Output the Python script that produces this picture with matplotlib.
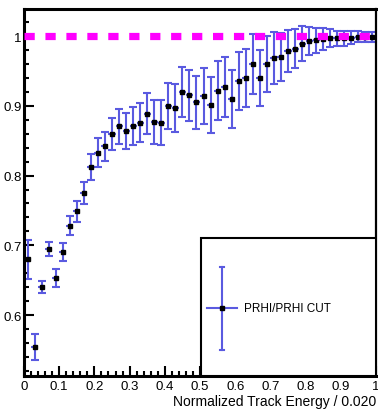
import numpy as np
import matplotlib
matplotlib.use("Agg")
from matplotlib import pyplot as plt
from matplotlib.patches import Rectangle
from matplotlib.ticker import MultipleLocator, FixedLocator

plt.rcParams['font.family'] = ['Liberation Sans', 'DejaVu Sans']

# efficiency per bin of normalized track energy (bin width 0.02)
bin_centers = np.arange(0.01, 1.0, 0.02)
eff = [0.680, 0.554, 0.640, 0.695, 0.653, 0.690, 0.728, 0.749, 0.775, 0.812,
       0.833, 0.842, 0.860, 0.871, 0.864, 0.871, 0.876, 0.889, 0.877, 0.876,
       0.900, 0.897, 0.920, 0.915, 0.905, 0.914, 0.901, 0.922, 0.927, 0.910,
       0.936, 0.940, 0.960, 0.940, 0.960, 0.969, 0.970, 0.979, 0.982, 0.989,
       0.993, 0.994, 0.996, 0.997, 0.997, 0.997, 0.998, 0.999, 0.999, 0.999]
eff_err = [0.028, 0.019, 0.0086, 0.0098, 0.0126, 0.013, 0.0136, 0.015, 0.016, 0.0186,
           0.021, 0.021, 0.023, 0.025, 0.026, 0.027, 0.028, 0.030, 0.031, 0.032,
           0.033, 0.035, 0.036, 0.037, 0.038, 0.040, 0.040, 0.042, 0.043, 0.042,
           0.042, 0.042, 0.043, 0.040, 0.040, 0.037, 0.034, 0.030, 0.028, 0.025,
           0.020, 0.018, 0.016, 0.013, 0.011, 0.011, 0.0095, 0.008, 0.0076, 0.0067]
bin_halfwidth = 0.01
ref_level = 1.0

x_ticks = [0, 0.1, 0.2, 0.3, 0.4, 0.5, 0.6, 0.7, 0.8, 0.9, 1]
x_labels = ["0", "0.1", "0.2", "0.3", "0.4", "0.5", "0.6", "0.7", "0.8", "0.9", "1"]
y_ticks = [0.6, 0.7, 0.8, 0.9, 1.0]
y_labels = ["0.6", "0.7", "0.8", "0.9", "1"]
legend_label = "PRHI/PRHI CUT"
x_title = "Normalized Track Energy / 0.020"

err_color = "#5a5ae0"

fig = plt.figure(figsize=(3.78, 4.10), dpi=100)
ax = fig.add_axes([24/378, 33/410, 352/378, 367/410])

# vertical error bars with caps, horizontal bin-width bars without
ax.errorbar(bin_centers, eff, yerr=eff_err, fmt='none', ecolor=err_color,
            elinewidth=1.5, capsize=2.8, capthick=1.5, zorder=2)
ax.errorbar(bin_centers, eff, xerr=bin_halfwidth, fmt='none', ecolor=err_color,
            elinewidth=1.5, capsize=0, zorder=2)
ax.plot(bin_centers, eff, 's', color='black', markersize=3.4, zorder=3)

# reference line at 1
ax.axhline(ref_level, color='#ff00ff', lw=5.2, linestyle=(0, (1.42, 1.48)),
           dash_capstyle='butt', zorder=4)

ax.set_xlim(0, 1)
ax.set_ylim(0.5125, 1.039)

ax.xaxis.set_major_locator(FixedLocator(x_ticks))
ax.set_xticklabels(x_labels)
ax.yaxis.set_major_locator(FixedLocator(y_ticks))
ax.set_yticklabels(y_labels)
ax.xaxis.set_minor_locator(MultipleLocator(0.02))
ax.yaxis.set_minor_locator(MultipleLocator(0.02))

ax.tick_params(which='both', direction='in', top=False, right=False, width=1.5,
               labelsize=9.5, colors='black')
ax.tick_params(which='major', length=7.5)
ax.tick_params(which='minor', length=3.8)
ax.tick_params(axis='y', pad=1.5)
ax.tick_params(axis='x', pad=3)

for side in ['left', 'bottom', 'top']:
    ax.spines[side].set_linewidth(2.2)
ax.spines['right'].set_linewidth(1.6)

ax.set_xlabel(x_title, fontsize=10, ha='right')
ax.xaxis.set_label_coords(1.0, -0.05)

# legend box, drawn by hand in axes coordinates
ax.add_patch(Rectangle((0.503, 0.0), 0.497, 0.375, transform=ax.transAxes,
                       facecolor='white', edgecolor='black', lw=1.5, zorder=5))
lx, ly = 0.5625, 0.185
ax.plot([lx - 0.044, lx + 0.044], [ly, ly], color=err_color, lw=1.5,
        transform=ax.transAxes, zorder=6)
ax.plot([lx, lx], [ly - 0.113, ly + 0.113], color=err_color, lw=1.5,
        transform=ax.transAxes, zorder=6)
ax.plot([lx - 0.006, lx + 0.006], [ly + 0.113, ly + 0.113], color=err_color, lw=1.5,
        transform=ax.transAxes, zorder=6)
ax.plot([lx - 0.006, lx + 0.006], [ly - 0.113, ly - 0.113], color=err_color, lw=1.5,
        transform=ax.transAxes, zorder=6)
ax.plot([lx], [ly], 's', color='black', markersize=3.0, transform=ax.transAxes, zorder=7)
ax.text(0.625, ly, legend_label, fontsize=8.5, va='center', ha='left',
        transform=ax.transAxes, zorder=7)

fig.savefig("out.png", dpi=100)
